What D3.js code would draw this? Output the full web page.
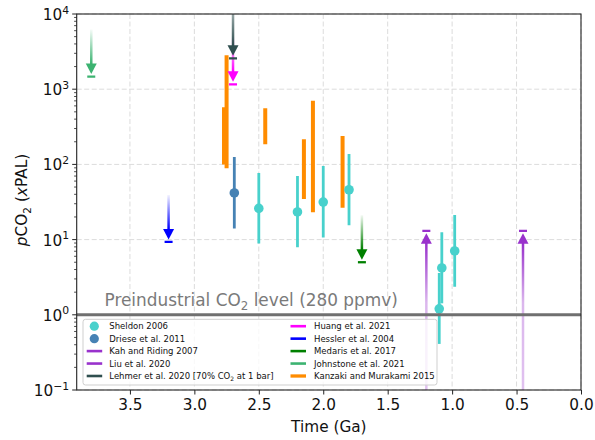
<!DOCTYPE html>
<html><head><meta charset="utf-8">
<script src="https://cdn.jsdelivr.net/npm/d3@7"></script>
<style>body{margin:0;background:#fff}svg{display:block;font-family:"DejaVu Sans",sans-serif}</style>
</head><body><svg id="c" width="595" height="440"></svg>
<script>
// ---------- data ----------
const xTicks = [3.5, 3.0, 2.5, 2.0, 1.5, 1.0, 0.5, 0.0];
const yTicks = [0.1, 1, 10, 100, 1000, 10000];
const yTickExp = ["\u22121", "0", "1", "2", "3", "4"];

const sheldonAge = [2.5, 2.2, 2.0, 1.8, 1.1, 1.08, 0.98];
const sheldonVal = [26, 23.3, 31.6, 46, 1.2, 4.2, 7.06];
const sheldonLo  = [8.9, 7.9, 10.7, 15.5, 0.41, 1.42, 2.36];
const sheldonHi  = [77, 70, 95, 137, 3.6, 12.5, 21.2];

const drieseAge = [2.69];
const drieseVal = [41.7];
const drieseLo  = [14.1];
const drieseHi  = [125];

const kanzakiAge = [2.77, 2.75, 2.45, 2.15, 2.08, 1.85];
const kanzakiLo  = [100, 89, 185, 34.7, 23.1, 26.6];
const kanzakiHi  = [575, 2830, 557, 216, 703, 239];

const limitNames  = ["Huang et al. 2021", "Lehmer et al. 2020", "Johnstone et al. 2021", "Hessler et al. 2004", "Medaris et al. 2017", "Kah and Riding 2007", "Liu et al. 2020"];
const limitAges   = [2.7, 2.7, 3.8, 3.2, 1.7, 1.2, 0.45];
const limitValues = [1160, 2570, 1470, 9.3, 5.0, 13.1, 13.1];
const limitKinds  = ["upper", "upper", "upper", "upper", "upper", "lower", "lower"];

const preindustrial = 1;

// ---------- styles ----------
const colors = {
  "Sheldon 2006": "#48D1CC",
  "Driese et al. 2011": "#4682B4",
  "Kah and Riding 2007": "#9932CC",
  "Liu et al. 2020": "#9932CC",
  "Lehmer et al. 2020": "#2F4F4F",
  "Huang et al. 2021": "#FF00FF",
  "Hessler et al. 2004": "#0000FF",
  "Medaris et al. 2017": "#008000",
  "Johnstone et al. 2021": "#3CB371",
  "Kanzaki and Murakami 2015": "#FF8C00"
};
const tailLen = {"Lehmer et al. 2020": 60};

// ---------- layout ----------
const L = 76.7, R = 581, T = 14, B = 390;
const svg = d3.select("#c");
const x = d3.scaleLinear().domain([3.913, 0]).range([L, R]);
const y = d3.scaleLog().domain([0.1, 1e4]).range([B, T]);

const defs = svg.append("defs");
defs.append("clipPath").attr("id", "clip").append("rect")
  .attr("x", L).attr("y", T).attr("width", R - L).attr("height", B - T);

// grid
const grid = svg.append("g").attr("stroke", "#dcdcdc").attr("stroke-width", 1).attr("stroke-dasharray", "5,2.5");
xTicks.forEach(t => grid.append("line").attr("x1", x(t)).attr("x2", x(t)).attr("y1", T).attr("y2", B));
yTicks.forEach(t => grid.append("line").attr("x1", L).attr("x2", R).attr("y1", y(t)).attr("y2", y(t)));

const plot = svg.append("g").attr("clip-path", "url(#clip)");

// Kanzaki bars
kanzakiAge.forEach((a, i) => {
  plot.append("line").attr("x1", x(a)).attr("x2", x(a))
    .attr("y1", y(kanzakiLo[i])).attr("y2", y(kanzakiHi[i]))
    .attr("stroke", colors["Kanzaki and Murakami 2015"]).attr("stroke-width", 4);
});

// error-bar points
function points(ages, vals, lo, hi, col) {
  ages.forEach((a, i) => {
    plot.append("line").attr("x1", x(a)).attr("x2", x(a))
      .attr("y1", y(lo[i])).attr("y2", y(hi[i]))
      .attr("stroke", col).attr("stroke-width", 2.8);
  });
  ages.forEach((a, i) => {
    plot.append("circle").attr("cx", x(a)).attr("cy", y(vals[i])).attr("r", 4.8).attr("fill", col);
  });
}
points(sheldonAge, sheldonVal, sheldonLo, sheldonHi, colors["Sheldon 2006"]);
points(drieseAge, drieseVal, drieseLo, drieseHi, colors["Driese et al. 2011"]);

// limit arrows
limitNames.forEach((n, i) => {
  const col = colors[n];
  const cx = x(limitAges[i]), cy = y(limitValues[i]);
  const gid = "g" + i;
  const g = plot.append("g");
  if (limitKinds[i] === "upper") {
    const base = cy - 13, top = base - (tailLen[n] || 34);
    const gr = defs.append("linearGradient").attr("id", gid).attr("gradientUnits", "userSpaceOnUse")
      .attr("x1", cx).attr("x2", cx).attr("y1", base).attr("y2", top);
    gr.append("stop").attr("offset", 0).attr("stop-color", col).attr("stop-opacity", 1);
    gr.append("stop").attr("offset", 1).attr("stop-color", col).attr("stop-opacity", 0.05);
    g.append("line").attr("x1", cx).attr("x2", cx).attr("y1", base + 1).attr("y2", top)
      .attr("stroke", "url(#" + gid + ")").attr("stroke-width", 2.5);
    g.append("path").attr("d", `M${cx - 5.5},${base}L${cx + 5.5},${base}L${cx},${cy - 2.5}Z`).attr("fill", col);
  } else {
    const base = cy + 13, bot = B + 2;
    const gr = defs.append("linearGradient").attr("id", gid).attr("gradientUnits", "userSpaceOnUse")
      .attr("x1", cx).attr("x2", cx).attr("y1", base).attr("y2", bot);
    gr.append("stop").attr("offset", 0).attr("stop-color", col).attr("stop-opacity", 1);
    gr.append("stop").attr("offset", 0.4).attr("stop-color", col).attr("stop-opacity", 0.35);
    gr.append("stop").attr("offset", 1).attr("stop-color", col).attr("stop-opacity", 0.3);
    g.append("line").attr("x1", cx).attr("x2", cx).attr("y1", base - 1).attr("y2", bot)
      .attr("stroke", "url(#" + gid + ")").attr("stroke-width", 2.5);
    g.append("path").attr("d", `M${cx - 5.5},${base}L${cx + 5.5},${base}L${cx},${cy + 2.5}Z`).attr("fill", col);
  }
  g.append("line").attr("x1", cx - 4).attr("x2", cx + 4).attr("y1", cy).attr("y2", cy)
    .attr("stroke", col).attr("stroke-width", 2.3);
});

// preindustrial line + label
svg.append("line").attr("x1", L).attr("x2", R).attr("y1", y(preindustrial)).attr("y2", y(preindustrial))
  .attr("stroke", "#707070").attr("stroke-width", 3);
const pt = svg.append("text").attr("x", 104.5).attr("y", 306).attr("fill", "#7a7a7a").attr("font-size", 16.9);
pt.append("tspan").text("Preindustrial CO");
pt.append("tspan").attr("dy", 3.8).attr("font-size", 11.8).text("2");
pt.append("tspan").attr("dy", -3.8).text(" level (280 ppmv)");

// axes frame
svg.append("rect").attr("x", L).attr("y", T).attr("width", R - L).attr("height", B - T)
  .attr("fill", "none").attr("stroke", "#222").attr("stroke-width", 1.1);

// x axis
const xa = svg.append("g").attr("transform", `translate(0,${B})`)
  .call(d3.axisBottom(x).tickValues(xTicks).tickFormat(d3.format(".1f")).tickSize(4.5).tickPadding(4));
xa.select(".domain").remove();
xa.selectAll("line").attr("stroke", "#222");
xa.selectAll("text").attr("font-size", 15.3).attr("font-family", "DejaVu Sans").attr("fill", "#111").attr("dy", "0.72em");

// y axis ticks
const minor = [];
for (let e = -1; e < 4; e++) for (let m = 2; m <= 9; m++) minor.push(m * Math.pow(10, e));
const ya = svg.append("g");
minor.forEach(v => ya.append("line").attr("x1", L).attr("x2", L - 2.6).attr("y1", y(v)).attr("y2", y(v)).attr("stroke", "#222").attr("stroke-width", 0.8));
yTicks.forEach((v, i) => {
  ya.append("line").attr("x1", L).attr("x2", L - 4.5).attr("y1", y(v)).attr("y2", y(v)).attr("stroke", "#222").attr("stroke-width", 1);
  const t = ya.append("text").attr("x", L - 7.5).attr("y", y(v) + 6).attr("text-anchor", "end")
    .attr("font-size", 15.3).attr("fill", "#111");
  t.append("tspan").text("10");
  t.append("tspan").attr("dy", -6.5).attr("font-size", 10.8).text(yTickExp[i]);
});

// axis labels
svg.append("text").attr("x", (L + R) / 2).attr("y", 432).attr("text-anchor", "middle")
  .attr("font-size", 15.3).attr("fill", "#111").text("Time (Ga)");
const yl = svg.append("text").attr("transform", `translate(27,${(T + B) / 2 - 2}) rotate(-90)`)
  .attr("text-anchor", "middle").attr("font-size", 15.3).attr("fill", "#111");
yl.append("tspan").attr("font-style", "italic").text("p");
yl.append("tspan").text("CO");
yl.append("tspan").attr("dy", 3.5).attr("font-size", 10.5).text("2");
yl.append("tspan").attr("dy", -3.5).text(" (");
yl.append("tspan").attr("font-style", "italic").text("x");
yl.append("tspan").text("PAL)");

// legend
const leg = svg.append("g");
leg.append("rect").attr("x", 83).attr("y", 319.3).attr("width", 354).attr("height", 65.7).attr("rx", 2.5)
  .attr("fill", "#fff").attr("fill-opacity", 0.8).attr("stroke", "#cfcfcf").attr("stroke-width", 1);
const col1 = ["Sheldon 2006", "Driese et al. 2011", "Kah and Riding 2007", "Liu et al. 2020", "Lehmer et al. 2020"];
const col2 = ["Huang et al. 2021", "Hessler et al. 2004", "Medaris et al. 2017", "Johnstone et al. 2021", "Kanzaki and Murakami 2015"];
const rowY = i => 326.2 + i * 12.45;
function legendItem(n, i, hx, tx) {
  const cy = rowY(i), col = colors[n];
  if (n === "Sheldon 2006" || n === "Driese et al. 2011") {
    leg.append("circle").attr("cx", hx + 7.6).attr("cy", cy).attr("r", 4.6).attr("fill", col);
  } else {
    leg.append("line").attr("x1", hx).attr("x2", hx + 15.5).attr("y1", cy).attr("y2", cy)
      .attr("stroke", col).attr("stroke-width", n === "Kanzaki and Murakami 2015" ? 3.3 : 2.6);
  }
  const t = leg.append("text").attr("x", tx).attr("y", cy + 3.1).attr("font-size", 8.5).attr("fill", "#111");
  if (n === "Lehmer et al. 2020") {
    t.append("tspan").text("Lehmer et al. 2020 [70% CO");
    t.append("tspan").attr("dy", 2.2).attr("font-size", 6).text("2");
    t.append("tspan").attr("dy", -2.2).text(" at 1 bar]");
  } else t.text(n);
}
col1.forEach((n, i) => legendItem(n, i, 86.7, 109.3));
col2.forEach((n, i) => legendItem(n, i, 290.5, 314));
</script></body></html>
